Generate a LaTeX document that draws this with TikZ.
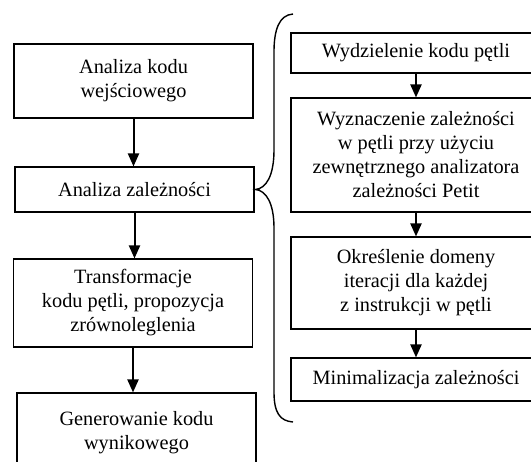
\documentclass[tikz,border=0pt]{standalone}
\usepackage{fontspec}
\setmainfont{Liberation Serif}
\usepackage{tikz}
\usetikzlibrary{arrows.meta}

\begin{document}
\begin{tikzpicture}[x=1pt, y=-1pt,
    font=\fontsize{20.3}{24}\selectfont,
    stage/.style={rectangle,draw,line width=1.1pt,align=center,inner sep=0pt,minimum width=239pt},
    sub/.style={stage,minimum width=250pt},
     Arr/.style={line width=2pt,-{Triangle[length=13pt,width=11pt]}},
                        ]
    \clip (0,0) rectangle (531,462);
    % left column
    \node[stage, minimum height=74pt] (input_node) at (133.5,81) {Analiza kodu\\wejściowego};
    \node[stage, minimum height=45pt] (deps_node)  at (134.5,189.5) {Analiza zależności};
    \node[stage, minimum height=88pt] (trans_node) at (133,303) {Transformacje\\kodu pętli, propozycja\\zrównoleglenia};
    \node[stage, minimum height=80pt] (gen_node)   at (136.5,433) {Generowanie kodu\\wynikowego};
    % right column
    \node[sub, minimum height=40pt]  (loop_node)  at (416,53) {Wydzielenie kodu pętli};
    \node[sub, minimum height=114pt] (petit_node) at (416,155) {Wyznaczenie zależności\\w pętli przy użyciu\\zewnętrznego analizatora\\zależności Petit};
    \node[sub, minimum height=92pt]  (dom_node)   at (416,283) {Określenie domeny\\iteracji dla każdej\\z instrukcji w pętli};
    \node[sub, minimum height=43pt]  (min_node)   at (416,379.5) {Minimalizacja zależności};

    \draw[Arr] (input_node.south) -- (input_node.south |- deps_node.north);
    \draw[Arr] (deps_node.south)  -- (deps_node.south |- trans_node.north);
    \draw[Arr] (trans_node.south) -- (trans_node.south |- gen_node.north);
    \draw[Arr] (loop_node.south)  -- (petit_node.north);
    \draw[Arr] (petit_node.south) -- (dom_node.north);
    \draw[Arr] (dom_node.south)   -- (min_node.north);

    % brace
    \coordinate (tip) at ([xshift=1pt]deps_node.east);
    \draw[line width=1.4pt] (293,14) .. controls (279,15) and (274,30) .. (274,52)
        -- (274,150) .. controls (274,176) and (266,188.5) .. (tip)
        .. controls (266,190.5) and (274,203) .. (274,228)
        -- (274,392) .. controls (274,413) and (280,421) .. (293,422);
\end{tikzpicture}
\end{document}
